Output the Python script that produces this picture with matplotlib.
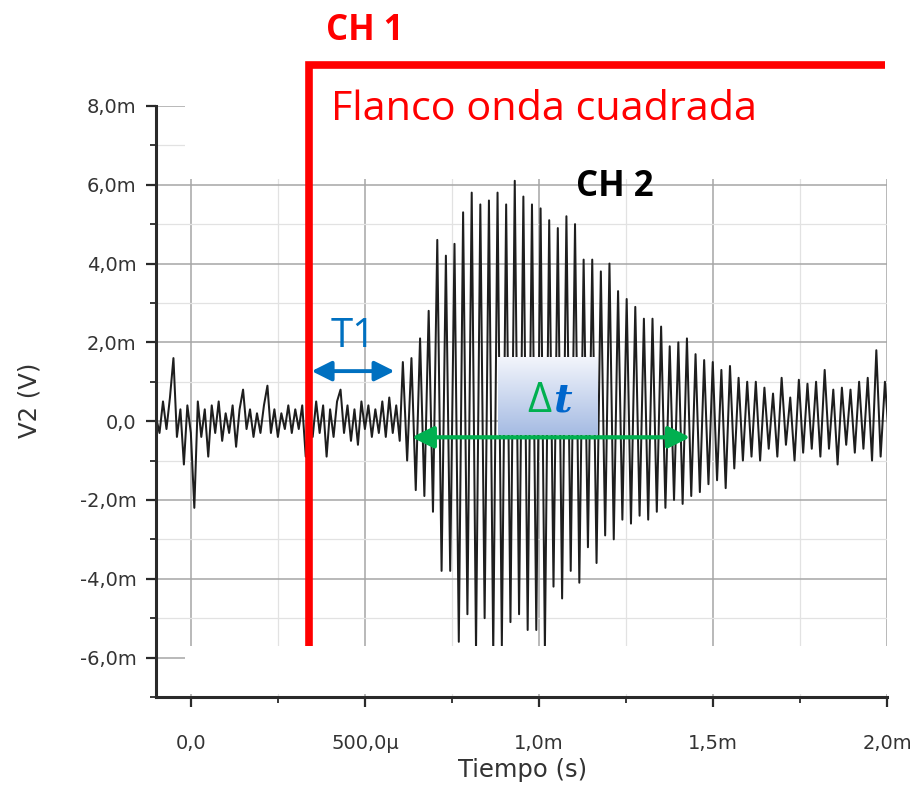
import numpy as np
import matplotlib.pyplot as plt
from matplotlib.patches import Rectangle, FancyArrowPatch
from matplotlib.ticker import FuncFormatter, MultipleLocator

# CH 2 before the burst: noise (mV), one sample every 10 us from -0.1 ms
noise_start_ms = -0.1
noise_step_ms = 0.01
noise_mv = [0.1, -0.3, 0.5, -0.2, 0.6, 1.6, -0.4, 0.3, -1.1, 0.4,
            -0.3, -2.2, 0.5, -0.4, 0.3, -0.9, 0.4, -0.3, 0.5, -0.5,
            0.2, -0.3, 0.4, -0.65, 0.3, 0.8, -0.2, 0.3, -0.4, 0.2,
            -0.3, 0.4, 0.9, -0.3, 0.3, -0.4, 0.2, -0.2, 0.4, -0.3,
            0.3, -0.2, 0.4, -0.9, 0.3, -0.4, 0.5, -0.3, 0.4, -0.9,
            0.3, -0.4, 0.5, 0.8, -0.3, 0.4, -0.5, 0.3, -0.6, 0.5,
            -0.2, 0.4, -0.4, 0.3, -0.3, 0.5, -0.4, 0.6, -0.3, 0.4,
            -0.5]

# CH 2 burst: one peak and one trough per cycle (mV)
burst_start_ms = 0.609
burst_period_ms = 0.02473
burst_peak_mv = [1.5, 1.6, 2.1, 2.8, 4.6, 4.2, 4.5, 5.3, 5.8, 5.5,
                 5.6, 5.8, 5.5, 6.1, 5.7, 5.5, 5.4, 5.1, 4.9, 5.2,
                 5.0, 4.1, 4.1, 3.8, 4.0, 3.3, 3.1, 2.9, 2.6, 2.6,
                 2.4, 1.9, 2.0, 2.1, 1.7, 1.55, 1.5, 1.3, 1.4, 1.1,
                 1.0, 1.0, 0.85, 0.7, 1.1, 0.6, 1.05, 0.95, 1.0, 1.3,
                 0.8, 0.85, 0.8, 1.0, 1.1, 1.8, 1.0]
burst_trough_mv = [-1.0, -1.75, -1.9, -2.3, -3.8, -3.8, -5.6, -4.9, -5.8, -5.0,
                   -5.9, -5.7, -5.1, -4.9, -5.3, -5.3, -5.8, -4.2, -4.5, -3.8,
                   -4.1, -3.2, -3.6, -2.9, -3.0, -2.5, -2.6, -2.4, -2.5, -2.3,
                   -2.2, -2.0, -2.1, -1.9, -1.8, -1.6, -1.5, -1.7, -1.2, -1.0,
                   -0.9, -1.0, -0.7, -0.9, -0.6, -1.0, -0.8, -0.7, -0.9, -0.7,
                   -1.1, -0.6, -0.8, -0.7, -1.0, -0.9, -0.5]

# Annotation times (ms) and levels (mV)
t_flanco_ms = 0.339      # square wave edge on CH 1
t_llegada_ms = 0.609     # burst arrival on CH 2
t_fin_ms = 1.434         # end of the delta t arrow
t1_level_mv = 1.27
dt_level_mv = -0.41
ch1_level_mv = 9.05

# Build the trace in seconds / volts
t_noise = noise_start_ms + noise_step_ms * np.arange(len(noise_mv))
t_peaks = burst_start_ms + burst_period_ms * np.arange(len(burst_peak_mv))
t_burst = np.column_stack([t_peaks, t_peaks + burst_period_ms / 2]).ravel()
v_burst = np.column_stack([burst_peak_mv, burst_trough_mv]).ravel()
t = np.concatenate([t_noise, t_burst]) * 1e-3
v = np.concatenate([noise_mv, v_burst]) * 1e-3

RED = "#FF0000"
BLUE = "#0070C0"
GREEN = "#00B050"
AXIS = "#2a2a2a"
LABEL = "#333333"
ANNOT_FONT = "Open Sans"


def si_comma(val, pos):
    """ Origin style tick labels: 500,0µ / 1,0m / 0,0 """
    if abs(val) < 1e-12:
        return "0,0"
    if abs(val) < 0.999e-3:
        s = f"{val * 1e6:.1f}µ"
    else:
        s = f"{val * 1e3:.1f}m"
    return s.replace(".", ",")


fig = plt.figure(figsize=(9.13, 7.87), dpi=100)
ax = fig.add_axes([0.1709, 0.1144, 0.8007, 0.7510])

ax.plot(t, v, color="#1e1e1e", lw=1.45, zorder=2)

ax.set_xlim(-0.1e-3, 2.0e-3)
ax.set_ylim(-7e-3, 8e-3)

ax.xaxis.set_major_locator(MultipleLocator(0.5e-3))
ax.xaxis.set_minor_locator(MultipleLocator(0.25e-3))
ax.yaxis.set_major_locator(MultipleLocator(2e-3))
ax.yaxis.set_minor_locator(MultipleLocator(1e-3))
ax.xaxis.set_major_formatter(FuncFormatter(si_comma))
ax.yaxis.set_major_formatter(FuncFormatter(si_comma))

ax.set_axisbelow(True)
ax.grid(which="major", color="#a6a6a6", lw=1.1)
ax.grid(which="minor", color="#e2e2e2", lw=0.9)
# no grid line on the plot edges
for tick in ax.xaxis.get_major_ticks():
    if tick.get_loc() > 1.99e-3:
        tick.gridline.set_visible(False)
for tick in ax.yaxis.get_major_ticks():
    if tick.get_loc() > 7.99e-3:
        tick.gridline.set_visible(False)

for side in ("top", "right"):
    ax.spines[side].set_visible(False)
for side in ("left", "bottom"):
    ax.spines[side].set_color(AXIS)
    ax.spines[side].set_linewidth(2.2)

ax.tick_params(which="major", direction="out", length=7, width=1.6, color=AXIS,
               labelsize=14, labelcolor=LABEL)
ax.tick_params(which="minor", direction="out", length=4, width=1.3, color=AXIS)
ax.tick_params(axis="x", which="major", pad=20)
ax.tick_params(axis="y", which="major", pad=7)

ax.set_xlabel("Tiempo (s)", fontsize=17.5, color=LABEL)
ax.set_ylabel("V2 (V)", fontsize=17.5, color=LABEL)
ax.xaxis.set_label_coords(0.5007, -0.103)
ax.yaxis.set_label_coords(-0.156, 0.5025)

# Blank areas of the original screenshot
ax.add_patch(Rectangle((-0.017e-3, 6.15e-3), 2.2e-3, 2.0e-3, facecolor="white",
                       edgecolor="none", zorder=1.5))
ax.add_patch(Rectangle((-0.017e-3, -6.92e-3), 2.2e-3, 1.22e-3, facecolor="white",
                       edgecolor="none", zorder=4))

# CH 1: square wave edge
ax.plot([t_flanco_ms * 1e-3, t_flanco_ms * 1e-3, 1.995e-3],
        [-5.7e-3, ch1_level_mv * 1e-3, ch1_level_mv * 1e-3],
        color=RED, lw=5.5, solid_joinstyle="miter", solid_capstyle="butt",
        clip_on=False, zorder=5)

ax.text(0.286, 1.127, "CH 1", transform=ax.transAxes, ha="center", va="center",
        fontsize=25, fontweight="bold", color=RED, family=ANNOT_FONT)
ax.text(0.2394, 0.9763, "Flanco onda cuadrada", transform=ax.transAxes,
        ha="left", va="baseline", fontsize=29.8, color=RED, family=ANNOT_FONT)
ax.text(0.628, 0.863, "CH 2", transform=ax.transAxes, ha="center", va="center",
        fontsize=25, fontweight="bold", color="black", family=ANNOT_FONT)
ax.text(0.270, 0.609, "T1", transform=ax.transAxes, ha="center", va="center",
        fontsize=29, color=BLUE, family=ANNOT_FONT)

# Arrows drawn on the figure so they sit above the delta-t box
arrow_t1 = FancyArrowPatch((t_flanco_ms * 1e-3, t1_level_mv * 1e-3),
                           (t_llegada_ms * 1e-3, t1_level_mv * 1e-3),
                           transform=ax.transData, shrinkA=2, shrinkB=6,
                           arrowstyle="<|-|>,head_length=0.6,head_width=0.3",
                           mutation_scale=20, lw=2.8, color=BLUE)
arrow_dt = FancyArrowPatch((t_llegada_ms * 1e-3 + 0.026e-3, dt_level_mv * 1e-3),
                           (t_fin_ms * 1e-3, dt_level_mv * 1e-3),
                           transform=ax.transData, shrinkA=0, shrinkB=0,
                           arrowstyle="<|-|>,head_length=0.6,head_width=0.3",
                           mutation_scale=22, lw=3.0, color=GREEN)
fig.add_artist(arrow_t1)
fig.add_artist(arrow_dt)

# Delta t label on a gradient box
box = fig.add_axes([0.5455, 0.4473, 0.1095, 0.0991])
top = np.array([0.95, 0.96, 0.985])
bottom = np.array([0.65, 0.735, 0.89])
frac = np.linspace(0, 1, 64)[:, None]
grad = top[None, :] * (1 - frac) + bottom[None, :] * frac
box.imshow(grad[:, None, :], aspect="auto", extent=(0, 1, 0, 1))
box.set_xlim(0, 1)
box.set_ylim(0, 1)
box.axis("off")
box.text(0.53, 0.295, "Δ", ha="right", va="baseline", fontsize=30,
         color=GREEN, family=ANNOT_FONT)
box.text(0.55, 0.295, "t", ha="left", va="baseline", fontsize=29,
         color="#0066CC", family="DejaVu Serif", style="italic", fontweight="bold")

fig.savefig("out.png", dpi=100)
